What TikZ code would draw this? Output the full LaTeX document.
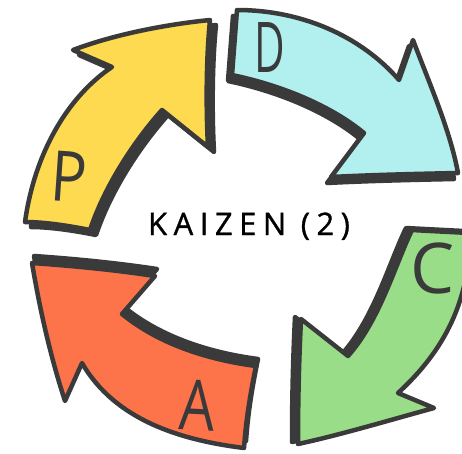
\documentclass[tikz,border=0pt]{standalone}
\usepackage{fontspec}
\setmainfont{Open Sans}
\newfontfamily\kaizenfont[LetterSpace=21,FakeBold=1]{Open Sans}
\definecolor{dk}{HTML}{3A3A3A}
\definecolor{yel}{HTML}{FDDA50}
\definecolor{cya}{HTML}{B2EFEF}
\definecolor{grn}{HTML}{9ADD88}
\definecolor{org}{HTML}{FD744A}
\tikzset{
  body/.style={draw=dk, line width=4.5pt, line join=round, line cap=round},
  shade/.style={fill=dk, draw=dk, line width=4.5pt, line join=round},
  letter/.style={text=dk, font=\fontsize{70}{70}\selectfont, inner sep=0pt}
}
\def\pathP{(25,222) .. controls (35,150) and (70,95) .. (112,67) -- (73,50)
  .. controls (110,36) and (160,25) .. (210,20)
  .. controls (206,60) and (206,110) .. (208,147) -- (162,110)
  .. controls (135,140) and (105,185) .. (90,230)
  .. controls (70,226) and (45,222) .. cycle}
\def\pathD{(237,10) .. controls (300,10) and (360,35) .. (399,80) -- (413,40)
  .. controls (430,85) and (450,130) .. (458,173)
  .. controls (410,174) and (370,175) .. (331,177) -- (364,133)
  .. controls (330,105) and (280,85) .. (232,75) -- cycle}
\def\pathC{(412,230) .. controls (430,231) and (450,232) .. (470,233)
  .. controls (470,300) and (445,350) .. (398,393) -- (434,408)
  .. controls (390,420) and (340,435) .. (298,444)
  .. controls (298,400) and (299,360) .. (301,319) -- (348,356)
  .. controls (380,320) and (395,265) .. cycle}
\def\pathA{(32,263) .. controls (75,266) and (115,270) .. (155,276) -- (122,314)
  .. controls (160,345) and (210,360) .. (256,366)
  .. controls (250,395) and (246,420) .. (244,448)
  .. controls (180,440) and (115,420) .. (82,363) -- (65,401)
  .. controls (50,355) and (40,310) .. cycle}
\begin{document}
\begin{tikzpicture}[x=1pt,y=-1pt]
\useasboundingbox (0,0) rectangle (462,453);
\clip (0,0) rectangle (462,453);
\fill[white] (0,0) rectangle (462,453);
% P (yellow)
\path[shade, shift={(6,5)}] \pathP;
\path[body, fill=yel] \pathP;
\node[letter, rotate=-4, xscale=0.85] (p) at (69,177) {P};
% D (cyan)
\path[shade, shift={(-4,6)}] \pathD;
\path[body, fill=cya] \pathD;
\node[letter, xscale=0.6] (d) at (270,48) {D};
% C (green)
\path[shade, shift={(-6,-2)}] \pathC;
\path[body, fill=grn] \pathC;
\node[letter] (c) at (433,268) {C};
% A (orange)
\path[shade, shift={(2,-7)}] \pathA;
\path[body, fill=org] \pathA;
\node[letter, rotate=-3, xscale=0.8] (a) at (198,405) {A};
% title
\node[anchor=base, inner sep=0pt, text=black, font=\kaizenfont\fontsize{31}{31}\selectfont] (t) at (249,235) {KAIZEN (2)};
\end{tikzpicture}
\end{document}
